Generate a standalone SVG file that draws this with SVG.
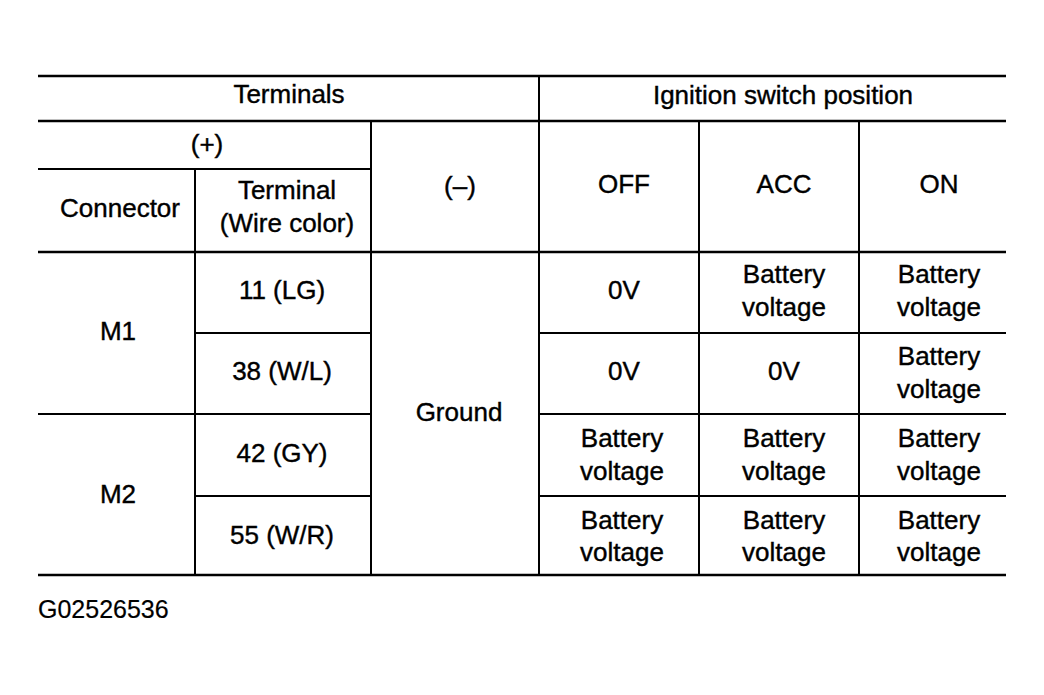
<svg xmlns="http://www.w3.org/2000/svg" width="1044" height="695" viewBox="0 0 1044 695">
<style>
.t{font-family:"Liberation Sans",Arial,sans-serif;font-size:26px;fill:#000;stroke:#000;stroke-width:0.4;text-anchor:middle}
.l{stroke:#000;stroke-width:2.5;fill:none}
.lt{stroke:#000;stroke-width:2;fill:none}
</style>
<rect width="1044" height="695" fill="#fff"/>
<g id="grid">
<path class="l" d="M38 76H1006M38 121H1006M38 252H1006M38 575H1006"/>
<path class="lt" d="M38 169H371M195 333H371M539 333H1006M38 414H371M539 414H1006M195 496H371M539 496H1006"/>
<path class="lt" d="M539 76V575M371 121V575M195 169V575M699 121V575M859 121V575"/>
</g>
<g id="header">
<text class="t" x="289" y="103">Terminals</text>
<text class="t" x="783" y="104">Ignition switch position</text>
<text class="t" x="207" y="153">(+)</text>
<text class="t" x="120" y="217">Connector</text>
<text class="t" x="287" y="199">Terminal</text>
<text class="t" x="287" y="232">(Wire color)</text>
<text class="t" x="460" y="195">(–)</text>
<text class="t" x="624" y="193">OFF</text>
<text class="t" x="784" y="193">ACC</text>
<text class="t" x="939" y="193">ON</text>
</g>
<g id="rows">
<text class="t" x="118" y="340">M1</text>
<text class="t" x="118" y="503">M2</text>
<text class="t" x="282" y="299">11 (LG)</text>
<text class="t" x="282" y="380">38 (W/L)</text>
<text class="t" x="282" y="462">42 (GY)</text>
<text class="t" x="282" y="544">55 (W/R)</text>
<text class="t" x="459" y="421">Ground</text>
<text class="t" x="624" y="299">0V</text>
<text class="t" x="784" y="283">Battery</text>
<text class="t" x="784" y="316">voltage</text>
<text class="t" x="939" y="283">Battery</text>
<text class="t" x="939" y="316">voltage</text>
<text class="t" x="624" y="380">0V</text>
<text class="t" x="784" y="380">0V</text>
<text class="t" x="939" y="365">Battery</text>
<text class="t" x="939" y="398">voltage</text>
<text class="t" x="622" y="447">Battery</text>
<text class="t" x="622" y="480">voltage</text>
<text class="t" x="784" y="447">Battery</text>
<text class="t" x="784" y="480">voltage</text>
<text class="t" x="939" y="447">Battery</text>
<text class="t" x="939" y="480">voltage</text>
<text class="t" x="622" y="529">Battery</text>
<text class="t" x="622" y="561">voltage</text>
<text class="t" x="784" y="529">Battery</text>
<text class="t" x="784" y="561">voltage</text>
<text class="t" x="939" y="529">Battery</text>
<text class="t" x="939" y="561">voltage</text>
</g>
<text class="t" x="38" y="618" style="text-anchor:start;font-size:25px;stroke-width:0.2">G02526536</text>
</svg>
